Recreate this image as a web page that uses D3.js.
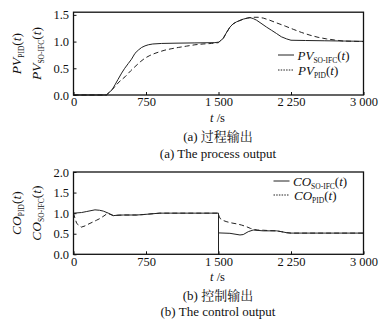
<!DOCTYPE html>
<html><head><meta charset="utf-8">
<script src="https://cdn.jsdelivr.net/npm/d3@7"></script>
<style>
html,body{margin:0;padding:0;background:#fff;}
svg{display:block;}
svg text{font-family:"Liberation Serif","Tinos","Times New Roman","DejaVu Serif",serif !important;fill:#111;}
svg text.cjk{font-family:"Liberation Serif","Noto Serif CJK SC","Noto Sans CJK SC",serif !important;}
</style></head>
<body><svg id="chart" width="386" height="322" font-family="Liberation Serif"></svg>
<script>
// ---- data ----
const xTicks = [0, 750, 1500, 2250, 3000];
const xTickLabels = ["0", "750", "1 500", "2 250", "3 000"];
const pvTicks = [0, 0.5, 1.0, 1.5];
const pvTickLabels = ["0.0", "0.5", "1.0", "1.5"];
const coTicks = [0, 0.5, 1.0, 1.5, 2.0];
const coTickLabels = ["0.0", "0.5", "1.0", "1.5", "2.0"];

const pvSoT = [0,340,400,429,460,498,530,567,600,636,670,705,740,774,820,912,1050,1256,1463,1500,1510,1549,1580,1618,1650,1687,1756,1800,1825,1860,1894,1950,1998,2050,2101,2150,2205,2250,2400,2600,2800,3000];
const pvSoV = [0,0,0.1,0.19,0.29,0.41,0.5,0.59,0.67,0.78,0.84,0.89,0.92,0.94,0.955,0.965,0.97,0.975,0.98,0.99,1.0,1.06,1.16,1.27,1.33,1.37,1.42,1.44,1.45,1.43,1.40,1.33,1.27,1.21,1.15,1.09,1.05,1.025,1.02,1.015,1.01,1.005];

const pvPidT = [0,340,400,429,480,533,590,636,690,739,790,843,900,946,1010,1084,1170,1256,1340,1429,1500,1510,1549,1580,1618,1650,1687,1756,1800,1859,1910,1963,2030,2101,2190,2273,2360,2446,2530,2618,2700,2790,2900,3000];
const pvPidV = [0,0,0.1,0.16,0.26,0.34,0.45,0.53,0.62,0.69,0.74,0.78,0.815,0.84,0.865,0.89,0.915,0.94,0.955,0.965,0.98,1.0,1.06,1.16,1.27,1.33,1.37,1.42,1.44,1.455,1.455,1.44,1.40,1.35,1.29,1.23,1.17,1.12,1.08,1.05,1.03,1.01,1.005,1.0];

const coSoT = [0,83,137,222,270,308,360,412,460,515,653,720,791,894,1000,1500,1500,1500,1618,1722,1756,1808,1859,1963,2101,2150,2205,2250,3000];
const coSoV = [1.0,1.015,1.04,1.08,1.07,1.05,1.0,0.94,0.95,0.955,0.955,0.965,0.98,1.0,1.0,1.0,0,0.52,0.51,0.47,0.48,0.55,0.59,0.57,0.57,0.55,0.525,0.515,0.515];

const coPidT = [0,8,33,80,119,160,205,240,274,326,350,412,460,515,653,720,791,894,1000,1500,1505,1517,1550,1587,1640,1687,1740,1790,1830,1859,1900,1963,2030,2101,2150,2205,2250,2500,3000];
const coPidV = [1.0,0.93,0.75,0.66,0.69,0.74,0.79,0.83,0.87,0.95,1.0,0.94,0.95,0.955,0.955,0.965,0.98,1.0,1.0,1.0,0.93,0.87,0.82,0.79,0.76,0.74,0.71,0.67,0.63,0.61,0.59,0.585,0.575,0.57,0.55,0.525,0.515,0.515,0.515];

// ---- drawing ----
const FONT = "Liberation Serif";
const svg = d3.select("#chart");
svg.append("rect").attr("width",386).attr("height",322).attr("fill","#fff");

const x = d3.scaleLinear().domain([0,3000]).range([73.5,363.5]);
const yPV = d3.scaleLinear().domain([0,1.55]).range([95,12.2]);
const yCO = d3.scaleLinear().domain([0,2]).range([254.3,172]);

function zip(t,v){ return t.map((d,i)=>[d,v[i]]); }

function richText(t, main, sub, subSize){
  t.append("tspan").attr("font-style","italic").text(main);
  t.append("tspan").attr("font-size",subSize+"px").attr("dy","3").text(sub);
  t.append("tspan").attr("dy","-3").text("(");
  t.append("tspan").attr("font-style","italic").text("t");
  t.append("tspan").text(")");
}

function panel(y, yTicks, yLabels, series, axisLab, legend, captions, capY){
  const g = svg.append("g").attr("font-family",FONT);
  const [y0,y1] = y.range();
  const ax = g.append("g").attr("transform",`translate(0,${y0})`)
    .call(d3.axisBottom(x).tickValues(xTicks).tickFormat((d,i)=>xTickLabels[i])
      .tickSizeInner(-3).tickSizeOuter(0).tickPadding(2.5));
  ax.attr("font-family",FONT).attr("font-size",null);
  ax.select(".domain").remove();
  ax.selectAll("text").attr("font-size","12.5px").attr("fill","#111");
  ax.selectAll("line").attr("stroke","#111");
  const ay = g.append("g").attr("transform",`translate(${x.range()[0]},0)`)
    .call(d3.axisLeft(y).tickValues(yTicks).tickFormat((d,i)=>yLabels[i])
      .tickSizeInner(-3).tickSizeOuter(0).tickPadding(4.5));
  ay.attr("font-family",FONT).attr("font-size",null);
  ay.select(".domain").remove();
  ay.selectAll("text").attr("font-size","12.5px").attr("fill","#111");
  ay.selectAll("line").attr("stroke","#111");
  const line = d3.line().x(d=>x(d[0])).y(d=>y(d[1]));
  series.forEach(s=>{
    g.append("path").datum(zip(s.t,s.v)).attr("d",line)
      .attr("fill","none").attr("stroke","#222").attr("stroke-width",1)
      .attr("stroke-dasharray",s.dash||null);
  });
  g.append("rect").attr("x",x.range()[0]).attr("y",y1)
    .attr("width",x.range()[1]-x.range()[0]).attr("height",y0-y1)
    .attr("fill","none").attr("stroke","#111").attr("stroke-width",1.3);
  const cy = (y0+y1)/2;
  axisLab.forEach(l=>{
    richText(g.append("text").attr("transform",`translate(${l.x},${cy}) rotate(-90)`)
      .attr("text-anchor","middle").attr("font-size","13.5px"), l.main, l.sub, 7.5);
  });
  legend.forEach(l=>{
    g.append("line").attr("x1",l.x1).attr("x2",l.x2).attr("y1",l.y).attr("y2",l.y)
      .attr("stroke","#222").attr("stroke-width",1).attr("stroke-dasharray",l.dash||null);
    richText(g.append("text").attr("x",l.tx).attr("y",l.y+4.5).attr("font-size","13px"), l.main, l.sub, 7.5);
  });
  const xl = g.append("text").attr("x",217.5).attr("y",capY[0]).attr("text-anchor","middle").attr("font-size","12.5px");
  xl.append("tspan").attr("font-style","italic").text("t");
  xl.append("tspan").text(" /s");
  g.append("text").attr("class","cjk").attr("x",218).attr("y",capY[1]).attr("text-anchor","middle").attr("font-size","13px").text(captions[0]);
  g.append("text").attr("x",218).attr("y",capY[2]).attr("text-anchor","middle").attr("font-size","13px").text(captions[1]);
}

panel(yPV, pvTicks, pvTickLabels,
  [{t:pvPidT, v:pvPidV, dash:"5,3"}, {t:pvSoT, v:pvSoV}],
  [{x:20.5, main:"PV", sub:"PID"}, {x:40.5, main:"PV", sub:"SO-IFC"}],
  [{x1:278, x2:294, y:55, tx:297.5, main:"PV", sub:"SO-IFC"},
   {x1:278, x2:294, y:70, tx:298, main:"PV", sub:"PID", dash:"1.5,1.2"}],
  ["(a) 过程输出", "(a) The process output"], [122, 140.5, 158]);

panel(yCO, coTicks, coTickLabels,
  [{t:coPidT, v:coPidV, dash:"5,3"}, {t:coSoT, v:coSoV}],
  [{x:20.5, main:"CO", sub:"PID"}, {x:40.5, main:"CO", sub:"SO-IFC"}],
  [{x1:273.5, x2:289.5, y:181, tx:293, main:"CO", sub:"SO-IFC"},
   {x1:273.5, x2:289.5, y:195, tx:294, main:"CO", sub:"PID", dash:"1.5,1.2"}],
  ["(b) 控制输出", "(b) The control output"], [281, 299.5, 315.5]);
</script></body></html>
